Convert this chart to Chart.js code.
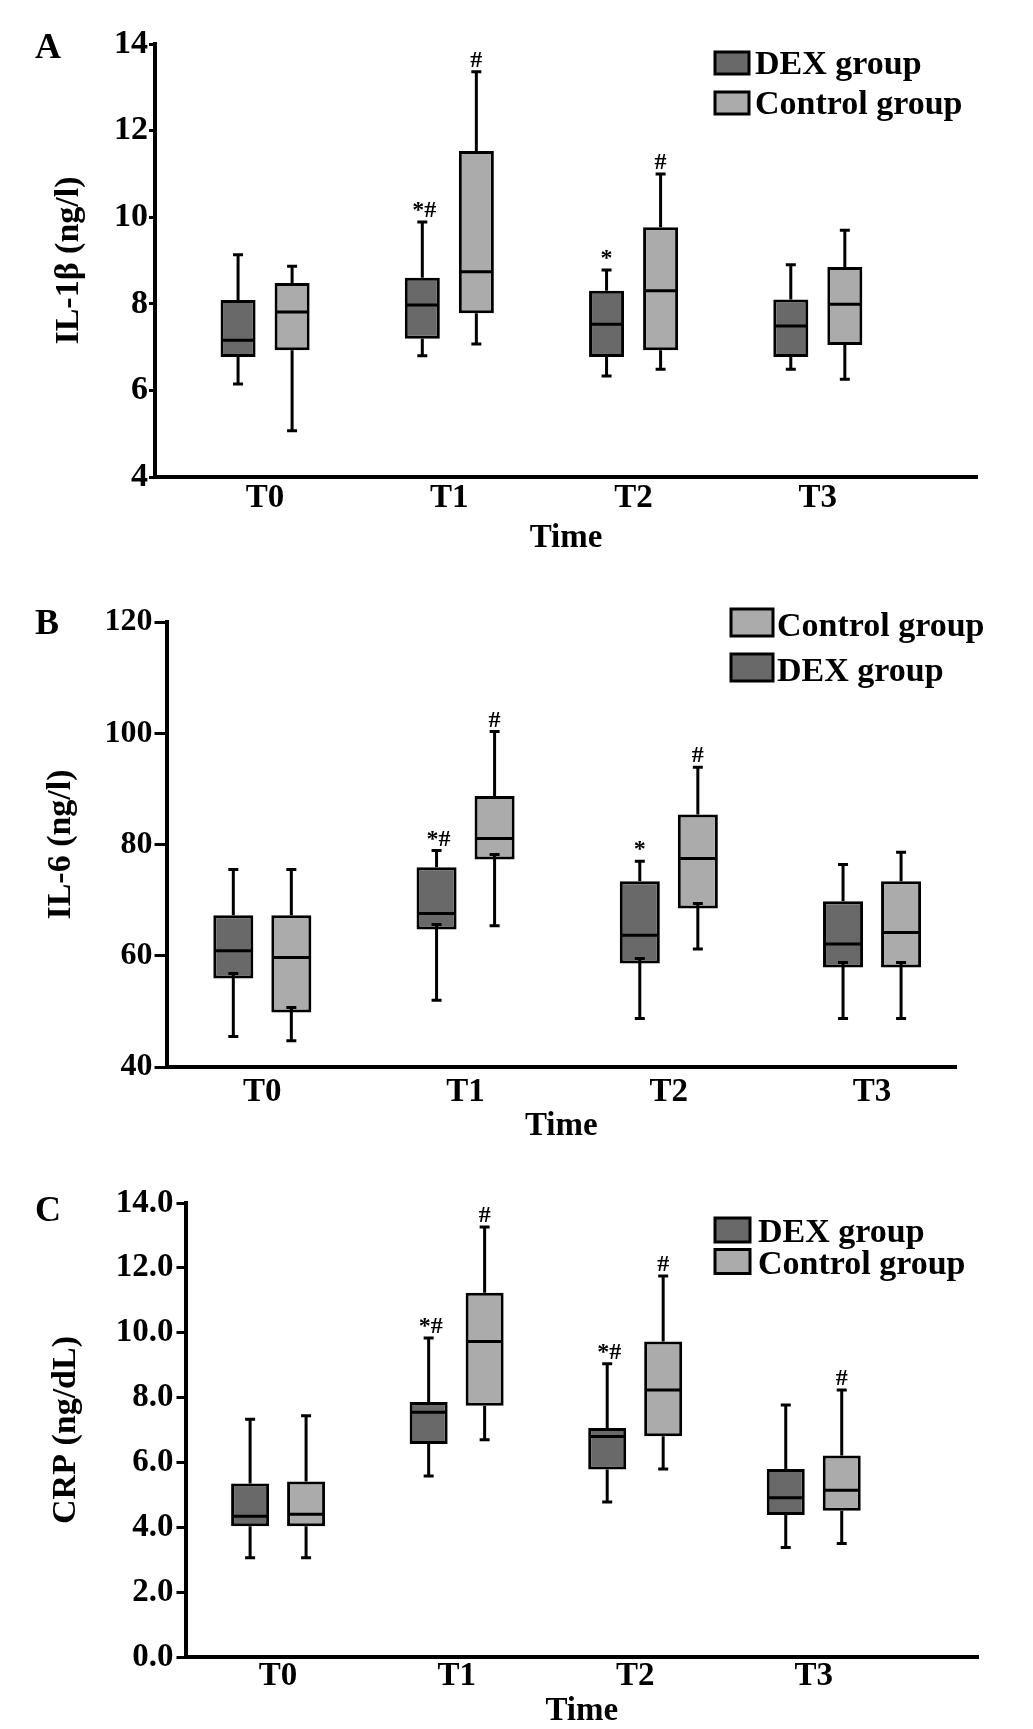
<!DOCTYPE html>
<html><head><meta charset="utf-8">
<script src="https://cdn.jsdelivr.net/npm/chart.js@4.4.1/dist/chart.umd.min.js"></script>
<style>
html,body{margin:0;padding:0;background:#fff;}
body{width:1033px;height:1729px;position:relative;overflow:hidden;}
canvas{position:absolute;left:0;}
.lbl{position:absolute;left:35px;font:bold 36px "Liberation Serif","Times New Roman",serif;line-height:36px;color:#000;z-index:2;}
</style></head><body>
<canvas id="cA" width="1033" height="570" style="top:0"></canvas>
<canvas id="cB" width="1033" height="590" style="top:570px"></canvas>
<canvas id="cC" width="1033" height="569" style="top:1160px"></canvas>
<div class="lbl" style="top:28px">A</div>
<div class="lbl" style="top:604px">B</div>
<div class="lbl" style="top:1191px">C</div>
<script>
// ---------- data ----------
const categories = ['T0', 'T1', 'T2', 'T3'];
const groupLabels = ['DEX group', 'Control group'];

// Panel A: IL-1β (ng/l)
const il1bTicks = [4, 6, 8, 10, 12, 14];
const il1bDexMin = [6.15, 6.80, 6.33, 6.49];
const il1bDexQ1  = [6.77, 7.19, 6.77, 6.77];
const il1bDexMed = [7.16, 7.97, 7.53, 7.49];
const il1bDexQ3  = [8.09, 8.60, 8.30, 8.10];
const il1bDexMax = [9.13, 9.89, 8.78, 8.90];
const il1bCtrlMin = [5.07, 7.07, 6.49, 6.26];
const il1bCtrlQ1  = [6.93, 7.78, 6.93, 7.05];
const il1bCtrlMed = [7.81, 8.74, 8.30, 7.99];
const il1bCtrlQ3  = [8.48, 11.53, 9.77, 8.85];
const il1bCtrlMax = [8.87, 13.36, 11.00, 9.70];
const il1bDexMarks  = ['', '*#', '*', ''];
const il1bCtrlMarks = ['', '#', '#', ''];

// Panel B: IL-6 (ng/l)
const il6Ticks = [40, 60, 80, 100, 120];
const il6DexMin = [45.5, 52.0, 48.7, 48.7];
const il6DexQ1  = [55.9, 64.7, 58.6, 57.9];
const il6DexMed = [60.9, 67.6, 63.7, 62.1];
const il6DexQ3  = [67.3, 75.9, 73.4, 69.8];
const il6DexMax = [75.5, 78.9, 77.0, 76.4];
const il6CtrlMin = [44.7, 65.4, 61.2, 48.7];
const il6CtrlQ1  = [49.8, 77.3, 68.5, 57.9];
const il6CtrlMed = [59.7, 81.1, 77.5, 64.2];
const il6CtrlQ3  = [67.3, 88.7, 85.4, 73.4];
const il6CtrlMax = [75.5, 100.3, 93.9, 78.6];
const il6DexMarks  = ['', '*#', '*', ''];
const il6CtrlMarks = ['', '#', '#', ''];

// Panel C: CRP (ng/dL)
const crpTicks = [0, 2, 4, 6, 8, 10, 12, 14];
const crpDexMin = [3.06, 5.58, 4.78, 3.38];
const crpDexQ1  = [4.03, 6.57, 5.78, 4.38];
const crpDexMed = [4.34, 7.55, 6.80, 4.91];
const crpDexQ3  = [5.35, 7.86, 7.06, 5.80];
const crpDexMax = [7.33, 9.84, 9.04, 7.77];
const crpCtrlMin = [3.06, 6.70, 5.80, 3.50];
const crpCtrlQ1  = [4.03, 7.75, 6.81, 4.51];
const crpCtrlMed = [4.40, 9.73, 8.23, 5.14];
const crpCtrlQ3  = [5.41, 11.23, 9.73, 6.21];
const crpCtrlMax = [7.44, 13.26, 11.75, 8.23];
const crpDexMarks  = ['', '*#', '*#', ''];
const crpCtrlMarks = ['', '#', '#', '#'];

// ---------- styles ----------
const SERIF = '"Liberation Serif", "Times New Roman", serif';
const DEX_FILL = '#696969';
const CTRL_FILL = '#ababab';

function makeBoxPlugin(cfg) {
  return {
    id: 'boxWhisker',
    afterDatasetsDraw(chart) {
      const ctx = chart.ctx, ys = chart.scales.y;
      ctx.save();
      ctx.strokeStyle = '#000';
      ctx.lineWidth = 3;
      chart.data.datasets.forEach((ds, di) => {
        const meta = chart.getDatasetMeta(di);
        meta.data.forEach((bar, i) => {
          const x = bar.x, hw = bar.width / 2, c = 5;
          const pMin = ys.getPixelForValue(ds.whiskerLow[i]);
          const pQ1 = ys.getPixelForValue(ds.data[i].y[0]);
          const pQ3 = ys.getPixelForValue(ds.data[i].y[1]);
          const pMax = ys.getPixelForValue(ds.whiskerHigh[i]);
          const pMed = ys.getPixelForValue(ds.median[i]);
          const lowStart = cfg.innerCap ? pQ1 - cfg.innerCap : pQ1;
          ctx.beginPath();
          ctx.moveTo(x, pQ3); ctx.lineTo(x, pMax);
          ctx.moveTo(x, lowStart); ctx.lineTo(x, pMin);
          ctx.moveTo(x - c, pMax); ctx.lineTo(x + c, pMax);
          ctx.moveTo(x - c, pMin); ctx.lineTo(x + c, pMin);
          if (cfg.innerCap) { ctx.moveTo(x - c, lowStart); ctx.lineTo(x + c, lowStart); }
          ctx.moveTo(x - hw + 2, pMed); ctx.lineTo(x + hw - 2, pMed);
          ctx.stroke();
          const m = ds.marks[i];
          if (m) {
            ctx.fillStyle = '#000';
            ctx.font = 'bold 24px ' + SERIF;
            ctx.textAlign = 'center';
            ctx.textBaseline = 'alphabetic';
            ctx.fillText(m, x + (m.length > 1 ? 2 : 0), pMax - 5);
          }
        });
      });
      // legend
      const L = cfg.legend;
      ctx.font = 'bold 34px ' + SERIF;
      ctx.textAlign = 'left';
      ctx.textBaseline = 'alphabetic';
      L.order.forEach((di, row) => {
        const ds = chart.data.datasets[di];
        const top = L.tops[row];
        ctx.fillStyle = ds.backgroundColor;
        ctx.fillRect(L.x, top, L.w, L.h);
        ctx.lineWidth = 3;
        ctx.strokeStyle = '#000';
        ctx.strokeRect(L.x, top, L.w, L.h);
        ctx.fillStyle = '#000';
        ctx.fillText(ds.label, L.textX, top + L.h);
      });
      ctx.restore();
    }
  };
}

function buildPanel(cfg) {
  const mk = (label, fill, q1, q3, lo, hi, med, marks) => ({
    label: label,
    data: categories.map((c, i) => ({ x: i, y: [q1[i], q3[i]] })),
    whiskerLow: lo, whiskerHigh: hi, median: med, marks: marks,
    backgroundColor: fill,
    borderColor: '#000',
    borderWidth: 3,
    borderSkipped: false,
    categoryPercentage: cfg.cat,
    barPercentage: cfg.bar
  });
  const s = cfg.series;
  new Chart(document.getElementById(cfg.canvas), {
    type: 'bar',
    data: {
      datasets: [
        mk(groupLabels[0], DEX_FILL, s.dexQ1, s.dexQ3, s.dexMin, s.dexMax, s.dexMed, s.dexMarks),
        mk(groupLabels[1], CTRL_FILL, s.ctrlQ1, s.ctrlQ3, s.ctrlMin, s.ctrlMax, s.ctrlMed, s.ctrlMarks)
      ]
    },
    options: {
      responsive: false,
      animation: false,
      devicePixelRatio: 1,
      layout: { padding: cfg.pad },
      plugins: { legend: { display: false }, tooltip: { enabled: false } },
      scales: {
        x: {
          type: 'linear',
          min: cfg.xMin, max: cfg.xMax,
          offset: false,
          afterBuildTicks: (sc) => { sc.ticks = categories.map((c, i) => ({ value: i })); },
          afterFit: (sc) => { sc.height = cfg.xHeight; },
          ticks: {
            callback: (v) => categories[v],
            color: '#000',
            padding: cfg.xTickPad,
            autoSkip: false,
            maxRotation: 0,
            font: { family: SERIF, size: 33, weight: 'bold', lineHeight: 1.2 }
          },
          grid: { display: false, drawTicks: false },
          border: { display: true, color: '#000', width: 4 },
          title: {
            display: true, text: 'Time', color: '#000', padding: 0,
            font: { family: SERIF, size: 33, weight: 'bold', lineHeight: 1 }
          }
        },
        y: {
          type: 'linear',
          min: cfg.yTicks[0], max: cfg.yTicks[cfg.yTicks.length - 1],
          afterBuildTicks: (sc) => { sc.ticks = cfg.yTicks.map(v => ({ value: v })); },
          afterFit: (sc) => { sc.width = cfg.yWidth; },
          ticks: {
            callback: (v) => v.toFixed(cfg.decimals),
            color: '#000',
            padding: cfg.tickPad,
            font: { family: SERIF, size: cfg.yTickFont, weight: 'bold' }
          },
          grid: { display: true, drawOnChartArea: false, drawTicks: true, tickLength: cfg.tickLen, lineWidth: 3, color: '#000' },
          border: { display: true, color: '#000', width: 4 },
          title: {
            display: true, text: cfg.yTitle, color: '#000', padding: 0,
            font: { family: SERIF, size: 34, weight: 'bold', lineHeight: 1 }
          }
        }
      }
    },
    plugins: [makeBoxPlugin(cfg)]
  });
}

buildPanel({
  canvas: 'cA', yTitle: 'IL-1β (ng/l)', yTicks: il1bTicks, decimals: 0,
  series: { dexMin: il1bDexMin, dexQ1: il1bDexQ1, dexMed: il1bDexMed, dexQ3: il1bDexQ3, dexMax: il1bDexMax, dexMarks: il1bDexMarks,
            ctrlMin: il1bCtrlMin, ctrlQ1: il1bCtrlQ1, ctrlMed: il1bCtrlMed, ctrlQ3: il1bCtrlQ3, ctrlMax: il1bCtrlMax, ctrlMarks: il1bCtrlMarks },
  xMin: -0.5975, xMax: 3.864,
  pad: { left: 52, top: 44, right: 56, bottom: 14.6 }, yWidth: 103, xHeight: 78.4,
  yTickFont: 34, tickLen: 6, tickPad: 1, xTickPad: 2, cat: 0.5866, bar: 0.648,
  legend: { x: 715, w: 34, h: 22, tops: [52, 92], textX: 755, order: [0, 1] }, innerCap: 0
});
buildPanel({
  canvas: 'cB', yTitle: 'IL-6 (ng/l)', yTicks: il6Ticks, decimals: 0,
  series: { dexMin: il6DexMin, dexQ1: il6DexQ1, dexMed: il6DexMed, dexQ3: il6DexQ3, dexMax: il6DexMax, dexMarks: il6DexMarks,
            ctrlMin: il6CtrlMin, ctrlQ1: il6CtrlQ1, ctrlMed: il6CtrlMed, ctrlQ3: il6CtrlQ3, ctrlMax: il6CtrlMax, ctrlMarks: il6CtrlMarks },
  xMin: -0.4715, xMax: 3.413,
  pad: { left: 44, top: 52, right: 77, bottom: 16.6 }, yWidth: 122.5, xHeight: 76.4,
  yTickFont: 32, tickLen: 12, tickPad: 2, xTickPad: 6, cat: 0.571, bar: 0.69,
  legend: { x: 731, w: 42, h: 27, tops: [39, 84], textX: 777, order: [1, 0] }, innerCap: 5
});
buildPanel({
  canvas: 'cC', yTitle: 'CRP (ng/dL)', yTicks: crpTicks, decimals: 1,
  series: { dexMin: crpDexMin, dexQ1: crpDexQ1, dexMed: crpDexMed, dexQ3: crpDexQ3, dexMax: crpDexMax, dexMarks: crpDexMarks,
            ctrlMin: crpCtrlMin, ctrlQ1: crpCtrlQ1, ctrlMed: crpCtrlMed, ctrlQ3: crpCtrlQ3, ctrlMax: crpCtrlMax, ctrlMarks: crpCtrlMarks },
  xMin: -0.5186, xMax: 3.92,
  pad: { left: 49, top: 43, right: 55, bottom: 0.6 }, yWidth: 136.5, xHeight: 71.4,
  yTickFont: 33, tickLen: 9, tickPad: 3, xTickPad: 0, cat: 0.627, bar: 0.679,
  legend: { x: 715, w: 35, h: 24, tops: [58, 89.5], textX: 758, order: [0, 1] }, innerCap: 0
});
</script>
</body></html>
